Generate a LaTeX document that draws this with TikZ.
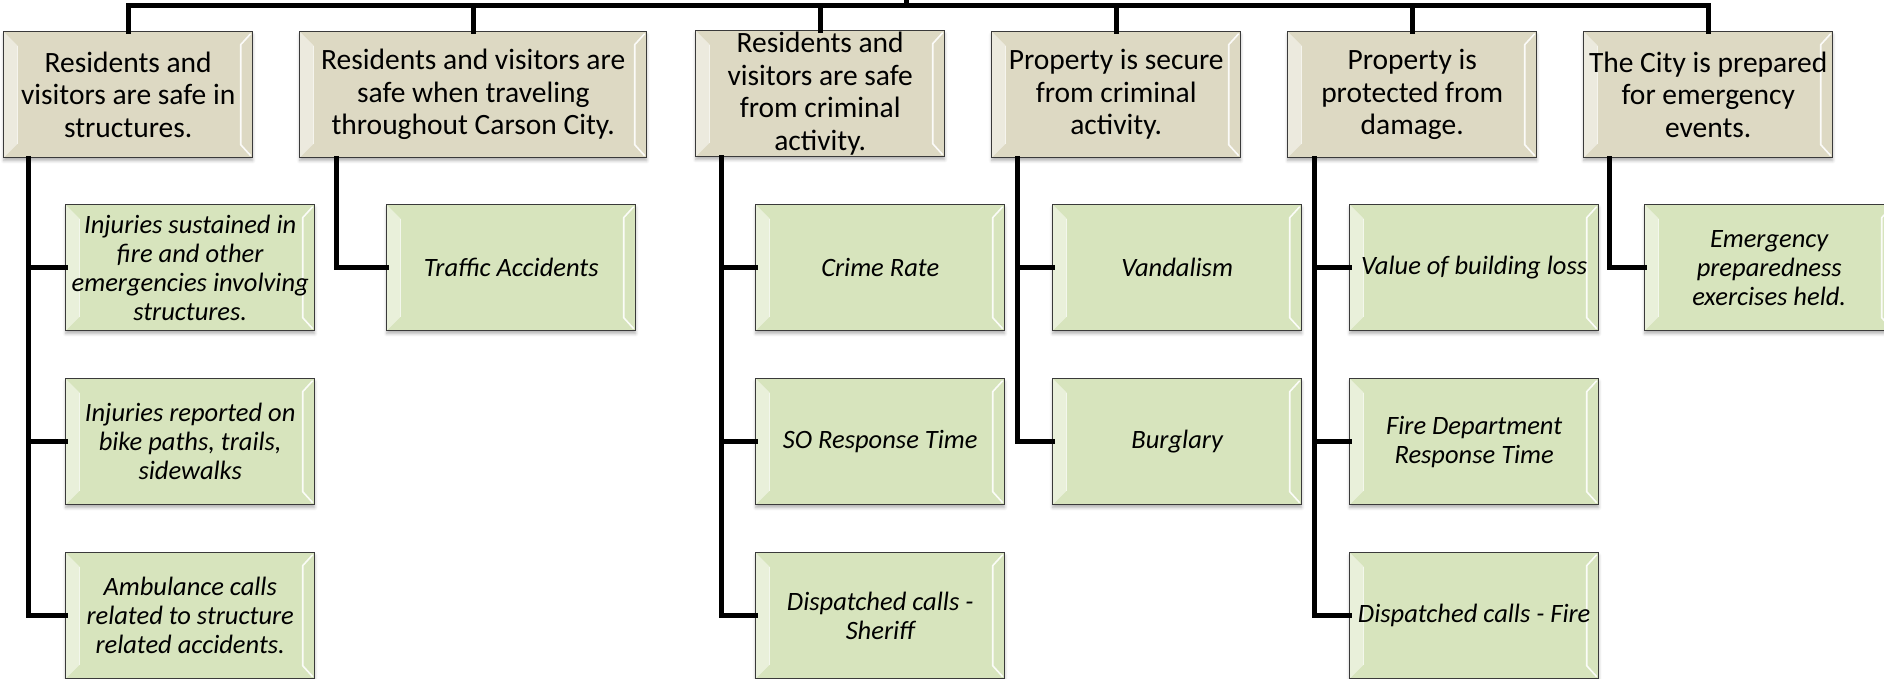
\documentclass[tikz,border=0pt]{standalone}
\usepackage{fontspec}
\setmainfont{Carlito}
\usetikzlibrary{shadows.blur}
\definecolor{topfill}{HTML}{DDD9C3}
\definecolor{kidfill}{HTML}{D7E4BD}
\definecolor{edge}{HTML}{3A3A3A}
\tikzset{
  bevelbox/.style={draw=edge, line width=1.4pt, anchor=north west, inner sep=0pt,
    minimum width=249pt, minimum height=126pt, align=center,
    blur shadow={shadow xshift=0pt, shadow yshift=-3pt, shadow blur radius=3pt, shadow opacity=30},
    path picture={
      \fill[white, opacity=0.45]
        (path picture bounding box.north west)
        -- ([xshift=14pt,yshift=-14pt]path picture bounding box.north west)
        -- ([xshift=14pt,yshift=14pt]path picture bounding box.south west)
        -- (path picture bounding box.south west) -- cycle;
      \draw[white, opacity=0.9, line width=1.6pt]
        ([xshift=-2pt,yshift=-2pt]path picture bounding box.north east)
        -- ([xshift=-12pt,yshift=-13pt]path picture bounding box.north east)
        -- ([xshift=-12pt,yshift=13pt]path picture bounding box.south east)
        -- ([xshift=-2pt,yshift=2pt]path picture bounding box.south east);
      \draw[white, opacity=0.6, line width=1pt]
        ([xshift=14pt,yshift=-14pt]path picture bounding box.north west)
        -- ([xshift=14pt,yshift=14pt]path picture bounding box.south west);
    }},
  goalbox/.style={bevelbox, fill=topfill, font=\fontsize{29.5}{32.5}\selectfont},
  kpibox/.style={bevelbox, fill=kidfill, font=\fontsize{26.5}{29}\selectfont\itshape},
  conn/.style={draw=black, line width=5pt, line join=miter, line cap=rect}
}
\begin{document}
\begin{tikzpicture}[x=1pt,y=-1pt]
\useasboundingbox (0,0) rectangle (1884,678);
% goal boxes
\node[goalbox] (t1) at (3,31)    {Residents and\\visitors are safe in\\structures.};
\node[goalbox, minimum width=347pt] (t2) at (299,31)  {Residents and visitors are\\safe when traveling\\throughout Carson City.};
\node[goalbox] (t3) at (695,30)  {Residents and\\visitors are safe\\from criminal\\activity.};
\node[goalbox] (t4) at (991,31)  {Property is secure\\from criminal\\activity.};
\node[goalbox] (t5) at (1287,31) {Property is\\protected from\\damage.};
\node[goalbox] (t6) at (1583,31) {The City is prepared\\for emergency\\events.};
% indicator boxes
\node[kpibox] (k11) at (65,204)   {Injuries sustained in\\fire and other\\emergencies involving\\structures.};
\node[kpibox] (k12) at (65,378)   {Injuries reported on\\bike paths, trails,\\sidewalks};
\node[kpibox] (k13) at (65,552)   {Ambulance calls\\related to structure\\related accidents.};
\node[kpibox] (k21) at (386,204)  {Traffic Accidents};
\node[kpibox] (k31) at (755,204)  {Crime Rate};
\node[kpibox] (k32) at (755,378)  {SO Response Time};
\node[kpibox] (k33) at (755,552)  {Dispatched calls -\\Sheriff};
\node[kpibox] (k41) at (1052,204) {Vandalism};
\node[kpibox] (k42) at (1052,378) {Burglary};
\node[kpibox] (k51) at (1349,204) {Value of building loss};
\node[kpibox] (k52) at (1349,378) {Fire Department\\Response Time};
\node[kpibox] (k53) at (1349,552) {Dispatched calls - Fire};
\node[kpibox] (k61) at (1644,204) {Emergency\\preparedness\\exercises held.};
% top bus
\coordinate (hub) at (906,5.5);
\coordinate (stub) at (906,0);
\draw[conn] (hub) -- (stub);
\draw[conn] (t1.north) -- (t1.north |- hub) -- (t6.north |- hub) -- (t6.north);
\draw[conn] (t2.north) -- (t2.north |- hub);
\draw[conn] (t3.north) -- (t3.north |- hub);
\draw[conn] (t4.north) -- (t4.north |- hub);
\draw[conn] (t5.north) -- (t5.north |- hub);
% column connectors
\coordinate (c1) at ([xshift=25.5pt]t1.south west);
\coordinate (c2) at ([xshift=37pt]t2.south west);
\coordinate (c3) at ([xshift=26pt]t3.south west);
\coordinate (c4) at ([xshift=26pt]t4.south west);
\coordinate (c5) at ([xshift=27pt]t5.south west);
\coordinate (c6) at ([xshift=26pt]t6.south west);
\draw[conn] (c1) |- (k13.west);
\draw[conn] (c1 |- k11.west) -- (k11.west);
\draw[conn] (c1 |- k12.west) -- (k12.west);
\draw[conn] (c2) |- (k21.west);
\draw[conn] (c3) |- (k33.west);
\draw[conn] (c3 |- k31.west) -- (k31.west);
\draw[conn] (c3 |- k32.west) -- (k32.west);
\draw[conn] (c4) |- (k42.west);
\draw[conn] (c4 |- k41.west) -- (k41.west);
\draw[conn] (c5) |- (k53.west);
\draw[conn] (c5 |- k51.west) -- (k51.west);
\draw[conn] (c5 |- k52.west) -- (k52.west);
\draw[conn] (c6) |- (k61.west);
\end{tikzpicture}
\end{document}
